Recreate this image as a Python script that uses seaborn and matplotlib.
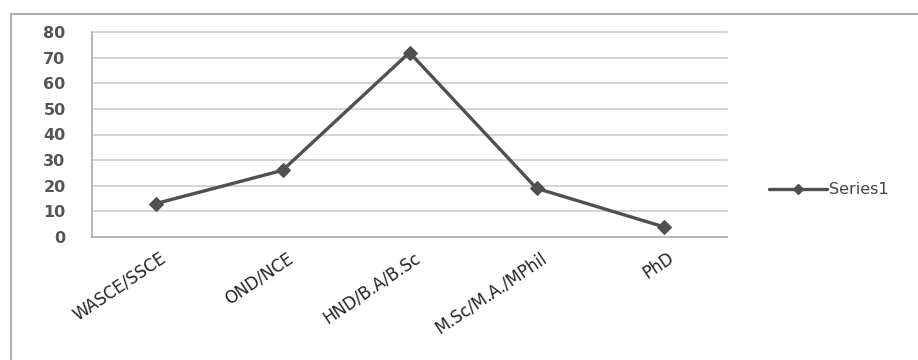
import matplotlib
matplotlib.use("Agg")
import matplotlib.pyplot as plt
import matplotlib.transforms as mtransforms
import seaborn as sns
import pandas as pd
from matplotlib.lines import Line2D

categories = ["WASCE/SSCE", "OND/NCE", "HND/B.A/B.Sc", "M.Sc/M.A./MPhil", "PhD"]
values = [13, 26, 72, 19, 4]
yticks = [0, 10, 20, 30, 40, 50, 60, 70, 80]
series_name = "Series1"

df = pd.DataFrame({"cat": categories, "val": values})

sns.set_style("white")
plt.rcParams['font.family'] = ['DejaVu Sans']

W, H = 918, 360
fig = plt.figure(figsize=(W / 100, H / 100), dpi=100)
ax = fig.add_axes([92 / W, 1 - 237 / H, (727 - 92) / W, (237 - 32) / H])

line_color = "#505050"
sns.lineplot(data=df, x="cat", y="val", ax=ax, color=line_color, linewidth=2.4,
             marker="D", markersize=7, markeredgecolor=line_color, sort=False,
             zorder=3)

ax.set_xlim(-0.5, len(categories) - 0.5)
ax.set_ylim(0, 80)
ax.set_yticks(yticks)
ax.set_yticklabels([str(v) for v in yticks], fontsize=11.5, color="#555555",
                   fontweight="semibold")
ax.set_xticks(range(len(categories)))
ax.set_xticklabels(categories, rotation=34, ha="right", va="center",
                   rotation_mode="anchor", fontsize=12, color="#222222")
ax.tick_params(axis="x", length=0, pad=14)
offset = mtransforms.ScaledTranslation(9 / 100, 0, fig.dpi_scale_trans)
for lbl in ax.get_xticklabels():
    lbl.set_transform(lbl.get_transform() + offset)
ax.set_xticks([i - 0.5 for i in range(len(categories) + 1)], minor=True)
ax.tick_params(axis="x", which="minor", length=5, color="#aaaaaa", width=1)
ax.tick_params(axis="y", length=8, color="#aaaaaa", width=1.2, pad=11)
ax.set_xlabel("")
ax.set_ylabel("")

for y in yticks[1:]:
    ax.axhline(y, color="#d4d4d4", linewidth=1.4, zorder=0, clip_on=False)

for s in ["top", "right"]:
    ax.spines[s].set_visible(False)
for s in ["left", "bottom"]:
    ax.spines[s].set_color("#aaaaaa")
    ax.spines[s].set_linewidth(1.2)

handle = Line2D([], [], color=line_color, linewidth=2.4, marker="D", markersize=5.5)
fig.legend([handle], [series_name], loc="center left",
           bbox_to_anchor=(755 / W, 1 - 190 / H), frameon=False,
           fontsize=11.5, handlelength=3.6, handletextpad=0.15,
           labelcolor="#444444")

# outer chart border (left and top visible)
fig.add_artist(Line2D([10.5 / W, 10.5 / W], [0, 1 - 13.5 / H], transform=fig.transFigure,
                      color="#b0b0b0", linewidth=1.5))
fig.add_artist(Line2D([10.5 / W, 1], [1 - 13.5 / H, 1 - 13.5 / H], transform=fig.transFigure,
                      color="#b0b0b0", linewidth=1.5))

fig.savefig("out.png", dpi=100)
